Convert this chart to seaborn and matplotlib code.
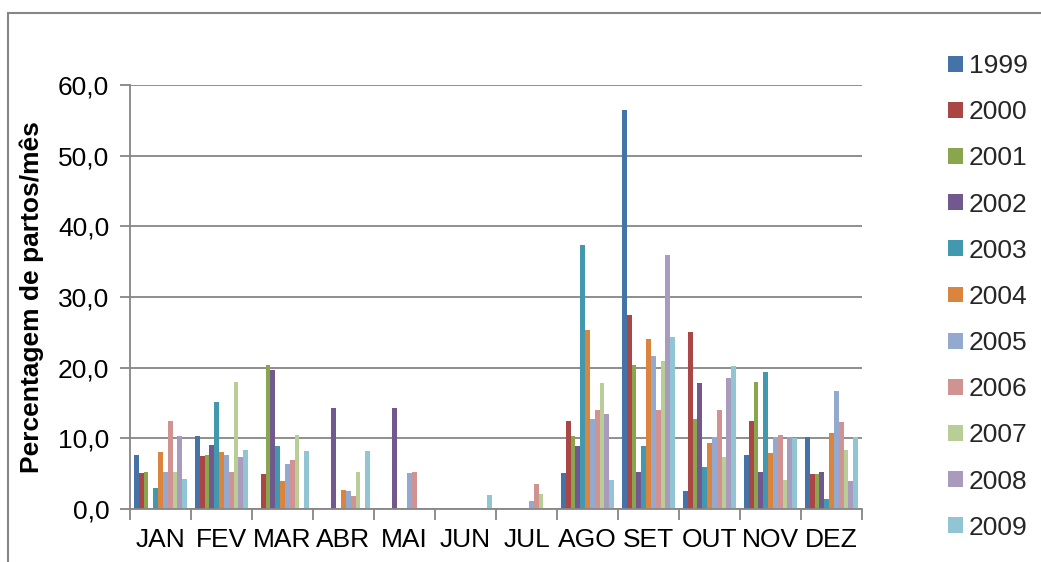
import matplotlib
matplotlib.use("Agg")
import matplotlib.pyplot as plt
from matplotlib.patches import Rectangle, Patch
from matplotlib.ticker import FuncFormatter, FixedLocator
import seaborn as sns
import pandas as pd

months = ["JAN", "FEV", "MAR", "ABR", "MAI", "JUN", "JUL", "AGO", "SET", "OUT", "NOV", "DEZ"]
years = ["1999", "2000", "2001", "2002", "2003", "2004", "2005", "2006", "2007", "2008", "2009"]

# Percentage of births per month, one list per year (JAN..DEZ)
y1999 = [7.7, 10.4, 0.0, 0.0, 0.0, 0.0, 0.0, 5.1, 56.4, 2.5, 7.6, 10.2]
y2000 = [5.1, 7.5, 5.0, 0.0, 0.0, 0.0, 0.0, 12.5, 27.5, 25.0, 12.4, 5.0]
y2001 = [5.2, 7.7, 20.4, 0.0, 0.0, 0.0, 0.0, 10.3, 20.4, 12.7, 18.0, 5.0]
y2002 = [0.0, 9.0, 19.6, 14.3, 14.3, 0.0, 0.0, 8.9, 5.3, 17.8, 5.3, 5.3]
y2003 = [3.0, 15.1, 8.9, 0.0, 0.0, 0.0, 0.0, 37.3, 8.9, 5.9, 19.4, 1.4]
y2004 = [8.1, 8.1, 3.9, 2.7, 0.0, 0.0, 0.0, 25.3, 24.0, 9.3, 7.9, 10.7]
y2005 = [5.2, 7.7, 6.4, 2.6, 5.1, 0.0, 1.2, 12.8, 21.7, 10.2, 10.2, 16.7]
y2006 = [12.4, 5.3, 7.0, 1.8, 5.3, 0.0, 3.5, 14.0, 14.0, 14.0, 10.5, 12.3]
y2007 = [5.3, 18.0, 10.5, 5.3, 0.0, 0.0, 2.1, 17.9, 21.0, 7.3, 4.1, 8.4]
y2008 = [10.4, 7.3, 0.0, 0.0, 0.0, 0.0, 0.0, 13.4, 36.0, 18.5, 10.2, 4.0]
y2009 = [4.2, 8.3, 8.2, 8.2, 0.0, 2.0, 0.0, 4.1, 24.4, 20.3, 10.1, 10.2]

series = [y1999, y2000, y2001, y2002, y2003, y2004, y2005, y2006, y2007, y2008, y2009]

colors = ["#4572A7", "#AA4643", "#89A54E", "#71588F", "#4198AF", "#DB843D",
          "#93A9CF", "#D19392", "#B9CD96", "#A99BBD", "#92C5D4"]

rows = []
for yr, vals in zip(years, series):
    for m, v in zip(months, vals):
        rows.append({"Mês": m, "Ano": yr, "Valor": v})
df = pd.DataFrame(rows)

sns.set_theme(style="white")
plt.rcParams["font.family"] = ["Liberation Sans", "DejaVu Sans"]

grey = "#868686"
fig = plt.figure(figsize=(10.41, 5.62), dpi=100)
ax = fig.add_axes([130 / 1041, 1 - 509 / 562, 732 / 1041, 424 / 562])

sns.barplot(data=df, x="Mês", y="Valor", hue="Ano", order=months, hue_order=years,
            palette=colors, width=0.87, saturation=1, linewidth=0, ax=ax, legend=False)

ax.set_xlim(-0.5, 11.5)
ax.set_ylim(0, 60)
ax.set_yticks(range(0, 61, 10))
ax.yaxis.set_major_formatter(FuncFormatter(lambda v, p: f"{v:.1f}".replace(".", ",")))
ax.grid(axis="y", color=grey, linewidth=1.3)
ax.set_axisbelow(True)

for s in ["top", "right"]:
    ax.spines[s].set_visible(False)
for s in ["left", "bottom"]:
    ax.spines[s].set_color(grey)
    ax.spines[s].set_linewidth(1.3)

ax.tick_params(axis="y", which="major", length=7, width=1.3, color=grey, direction="out",
               labelsize=19, pad=8, left=True, labelcolor="black")
ax.tick_params(axis="x", which="major", length=0, labelsize=19, pad=14, labelcolor="black")
ax.xaxis.set_minor_locator(FixedLocator([i - 0.5 for i in range(13)]))
ax.tick_params(axis="x", which="minor", length=8, width=1.3, color=grey, direction="out", bottom=True)

ax.set_xlabel("")
ax.set_ylabel("Percentagem de partos/mês", fontsize=19, fontweight="bold", color="black")
ax.yaxis.set_label_coords(-0.118, 0.5)

handles = [Patch(facecolor=c, edgecolor="none") for c in colors]
fig.legend(handles, years, loc="upper left", bbox_to_anchor=(948 / 1041, 1 - 54 / 562),
           frameon=False, fontsize=19, handlelength=0.55, handleheight=0.55,
           handletextpad=0.25, labelspacing=0.84, borderaxespad=0, borderpad=0)

fig.patches.append(Rectangle((8 / 1041, -0.05), 1.2, 1.05 - 13 / 562, transform=fig.transFigure,
                             fill=False, edgecolor=grey, linewidth=1.5))

fig.savefig("out.png", dpi=100)
